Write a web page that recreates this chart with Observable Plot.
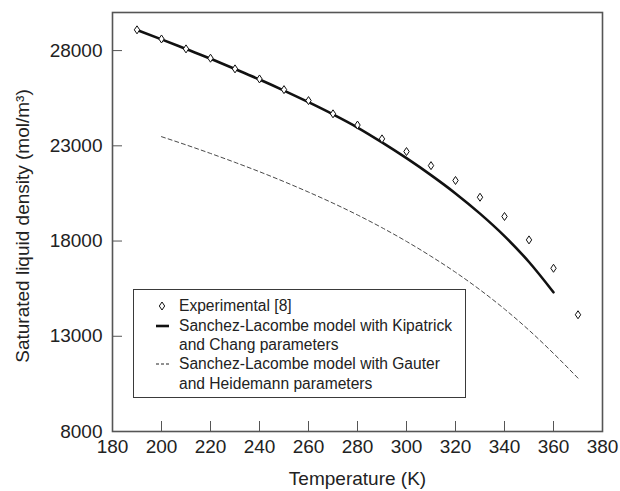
<!DOCTYPE html>
<html>
<head>
<meta charset="utf-8">
<script src="https://cdn.jsdelivr.net/npm/d3@7"></script>
<script src="https://cdn.jsdelivr.net/npm/@observablehq/plot@0.6"></script>
<style>
  html, body { margin: 0; padding: 0; background: #fff; }
  #wrap { position: relative; width: 620px; height: 491px; font-family: "Liberation Sans", Arial, Helvetica, sans-serif; }
  #legend { position: absolute; left: 133px; top: 289px; width: 331px; height: 107px; border: 1.3px solid #3a3a3a; background: #fff; box-sizing: content-box; }
  .row { position: absolute; left: 0; font-size: 15.6px; color: #222; white-space: nowrap; }
  .row span.t { position: absolute; left: 45px; transform: translateY(-50%); }
  .row svg { position: absolute; left: 18px; top: -6px; }
</style>
</head>
<body>
<div id="wrap"></div>
<script>
// Experimental [8]
const expT = [190, 200, 210, 220, 230, 240, 250, 260, 270, 280, 290, 300, 310, 320, 330, 340, 350, 360, 370];
const expRho = [29090, 28610, 28090, 27600, 27040, 26510, 25950, 25375, 24680, 24090, 23365, 22700, 21960, 21180, 20300, 19290, 18060, 16570, 14130];

// Sanchez-Lacombe, Kipatrick and Chang parameters
const kcT = [190, 200, 210, 220, 230, 240, 250, 260, 270, 280, 290, 300, 310, 320, 330, 340, 350, 360];
const kcRho = [29080, 28590, 28080, 27570, 27030, 26480, 25900, 25290, 24650, 23960, 23180, 22350, 21460, 20500, 19440, 18260, 16900, 15310];

// Sanchez-Lacombe, Gauter and Heidemann parameters
const ghT = [200, 210, 220, 230, 240, 250, 260, 270, 280, 290, 300, 310, 320, 330, 340, 350, 360, 370];
const ghRho = [23480, 23050, 22600, 22130, 21640, 21120, 20570, 19990, 19370, 18700, 17980, 17200, 16360, 15440, 14430, 13320, 12100, 10800];

const xTicks = [180, 200, 220, 240, 260, 280, 300, 320, 340, 360, 380];
const yTicks = [8000, 13000, 18000, 23000, 28000];

const expData = expT.map((t, i) => ({t, rho: expRho[i]}));
const kcData = kcT.map((t, i) => ({t, rho: kcRho[i]}));
const ghData = ghT.map((t, i) => ({t, rho: ghRho[i]}));

const tallDiamond = {
  draw(ctx) {
    ctx.moveTo(0, -4);
    ctx.lineTo(2.7, 0);
    ctx.lineTo(0, 4);
    ctx.lineTo(-2.7, 0);
    ctx.closePath();
  }
};

const font = "Liberation Sans, Arial, Helvetica, sans-serif";

const chart = Plot.plot({
  width: 620,
  height: 491,
  marginLeft: 112,
  marginRight: 18,
  marginTop: 12,
  marginBottom: 60,
  style: {fontFamily: font, background: "#fff", color: "#222"},
  x: {domain: [180, 380]},
  y: {domain: [8000, 30000]},
  marks: [
    Plot.axisX({ticks: xTicks, tickSize: -10, fill: "none", stroke: "#555", label: null}),
    Plot.axisX({ticks: xTicks, tickSize: 0, tickPadding: 8, fontSize: 19, fill: "#222", label: null, tickFormat: d => String(d)}),
    Plot.axisY({ticks: yTicks, tickSize: -10, fill: "none", stroke: "#555", label: null}),
    Plot.axisY({ticks: yTicks, tickSize: 0, tickPadding: 10, fontSize: 19, fill: "#222", label: null, tickFormat: d => String(d)}),
    Plot.frame({stroke: "#555", strokeWidth: 1.6}),
    Plot.line(ghData, {x: "t", y: "rho", stroke: "#333", strokeWidth: 0.9, strokeDasharray: "4,3", curve: "monotone-x"}),
    Plot.line(kcData, {x: "t", y: "rho", stroke: "#111", strokeWidth: 2.6, curve: "monotone-x"}),
    Plot.dot(expData, {x: "t", y: "rho", symbol: tallDiamond, fill: "#fff", stroke: "#111", strokeWidth: 1}),
    Plot.text(["Temperature (K)"], {frameAnchor: "bottom", dy: 47, fontSize: 19, fill: "#222", lineAnchor: "middle", textAnchor: "middle"}),
    Plot.text(["Saturated liquid density (mol/m\u00B3)"], {frameAnchor: "left", dx: -90, dy: 4, rotate: -90, fontSize: 19, fill: "#222", lineAnchor: "middle", textAnchor: "middle"})
  ]
});

const wrap = document.getElementById("wrap");
wrap.appendChild(chart);

const legend = document.createElement("div");
legend.id = "legend";
legend.innerHTML = `
  <div class="row" style="top:16px"><svg width="20" height="12"><path d="M10,2 L12.7,6 L10,10 L7.3,6 Z" fill="#fff" stroke="#111" stroke-width="1"/></svg><span class="t">Experimental [8]</span></div>
  <div class="row" style="top:36px"><svg width="20" height="12"><line x1="4" y1="6" x2="17" y2="6" stroke="#111" stroke-width="2.6"/></svg><span class="t">Sanchez-Lacombe model with Kipatrick</span></div>
  <div class="row" style="top:55px"><span class="t">and Chang parameters</span></div>
  <div class="row" style="top:74px"><svg width="20" height="12"><line x1="4" y1="6" x2="17" y2="6" stroke="#222" stroke-width="1" stroke-dasharray="3,2"/></svg><span class="t">Sanchez-Lacombe model with Gauter</span></div>
  <div class="row" style="top:94px"><span class="t">and Heidemann parameters</span></div>
`;
wrap.appendChild(legend);
</script>
</body>
</html>
